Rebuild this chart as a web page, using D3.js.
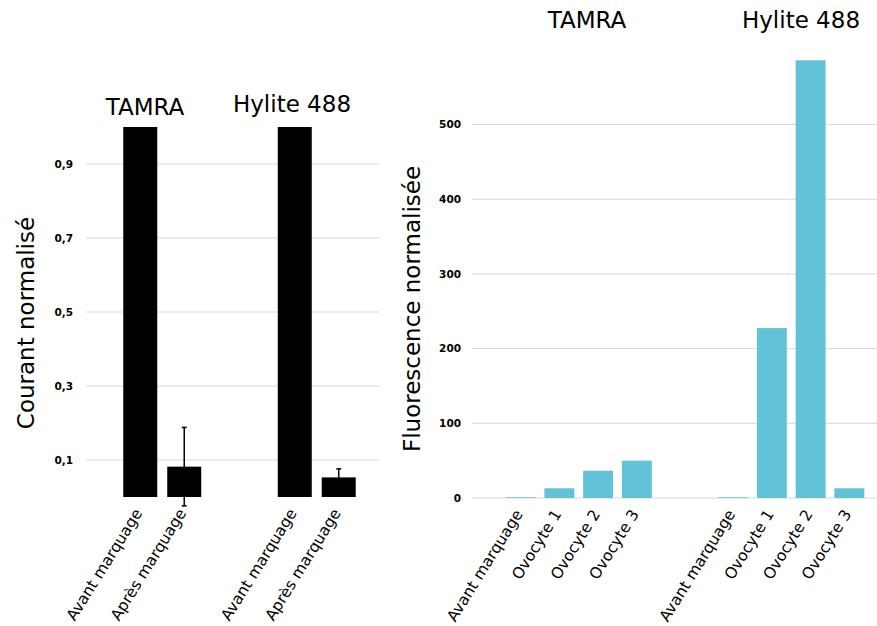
<!DOCTYPE html>
<html>
<head>
<meta charset="utf-8">
<script src="https://cdn.jsdelivr.net/npm/d3@7"></script>
<style>
  html, body { margin: 0; padding: 0; background: #fff; }
  svg { display: block; }
  .tick-label { font-family: "DejaVu Sans", sans-serif; font-weight: bold; font-size: 10.5px; fill: #000; }
  .cat-label { font-family: "DejaVu Sans", sans-serif; font-size: 15.5px; fill: #000; }
  .title { font-family: "DejaVu Sans", sans-serif; font-size: 23px; fill: #000; }
  .axis-title { font-family: "DejaVu Sans", sans-serif; font-size: 23px; fill: #000; }
</style>
</head>
<body>
<script>
// ---------- DATA ----------
const groups = ["TAMRA", "Hylite 488"];

// Left chart: normalized current
const leftCategories = ["Avant marquage", "Après marquage"];
const leftTamra = [1.0, 0.082];
const leftHylite = [1.0, 0.053];
const leftTamraErr = [0, 0.106];
const leftHyliteErr = [0, 0.023];
const leftTicks = [0.1, 0.3, 0.5, 0.7, 0.9];
const leftTickLabels = ["0,1", "0,3", "0,5", "0,7", "0,9"];

// Right chart: normalized fluorescence
const rightCategories = ["Avant marquage", "Ovocyte 1", "Ovocyte 2", "Ovocyte 3"];
const rightTamra = [1, 13, 36.5, 50];
const rightHylite = [1, 227.5, 586, 13];
const rightTicks = [0, 100, 200, 300, 400, 500];
const rightTickLabels = ["0", "100", "200", "300", "400", "500"];

const leftYTitle = "Courant normalisé";
const rightYTitle = "Fluorescence normalisée";

// ---------- DRAW ----------
const W = 877, H = 626;
const svg = d3.select("body").append("svg").attr("width", W).attr("height", H);

const gridColor = "#d9d9d9";
const blue = "#62c2d8";
const angle = -58;

// ===== Left chart =====
(function () {
  const y = d3.scaleLinear().domain([0, 1]).range([497, 127]);
  const x0 = d3.scaleBand().domain(groups).range([85, 394]);
  const x1 = d3.scaleBand().domain(leftCategories).range([0, x0.bandwidth()])
    .paddingInner(0.227).paddingOuter(0.87);
  const g = svg.append("g");

  g.selectAll("line.grid").data(leftTicks).enter().append("line")
    .attr("x1", 86).attr("x2", 379)
    .attr("y1", d => y(d)).attr("y2", d => y(d))
    .attr("stroke", gridColor).attr("stroke-width", 1);

  g.selectAll("text.tick-label").data(leftTicks).enter().append("text")
    .attr("class", "tick-label")
    .attr("x", 73).attr("y", d => y(d)).attr("dy", "0.35em")
    .attr("text-anchor", "end")
    .text((d, i) => leftTickLabels[i]);

  const series = [leftTamra, leftHylite];
  const errs = [leftTamraErr, leftHyliteErr];
  groups.forEach((grp, gi) => {
    const gg = g.append("g").attr("transform", `translate(${x0(grp)},0)`);
    gg.selectAll("rect").data(series[gi]).enter().append("rect")
      .attr("x", (d, i) => x1(leftCategories[i]))
      .attr("width", x1.bandwidth())
      .attr("y", d => y(d))
      .attr("height", d => y(0) - y(d))
      .attr("fill", "#000");
    series[gi].forEach((v, i) => {
      const e = errs[gi][i];
      if (!e) return;
      const cx = x1(leftCategories[i]) + x1.bandwidth() / 2;
      gg.append("line").attr("x1", cx).attr("x2", cx)
        .attr("y1", y(v + e)).attr("y2", y(v - e))
        .attr("stroke", "#000").attr("stroke-width", 1.5);
      [v + e, v - e].forEach(t => {
        gg.append("line").attr("x1", cx - 2.5).attr("x2", cx + 2.5)
          .attr("y1", y(t)).attr("y2", y(t))
          .attr("stroke", "#000").attr("stroke-width", 1.5);
      });
    });
    leftCategories.forEach(c => {
      gg.append("text").attr("class", "cat-label")
        .attr("text-anchor", "end")
        .attr("transform", `translate(${x1(c) + x1.bandwidth() / 2 - 2},${y(0) + 13}) rotate(${angle})`)
        .attr("dy", "0.35em")
        .text(c);
    });
  });

  g.append("text").attr("class", "title").attr("x", 145).attr("y", 115)
    .attr("text-anchor", "middle").text(groups[0]);
  g.append("text").attr("class", "title").attr("x", 292).attr("y", 112)
    .attr("text-anchor", "middle").text(groups[1]);

  g.append("text").attr("class", "axis-title")
    .attr("transform", `translate(34,323) rotate(-90)`)
    .attr("text-anchor", "middle").text(leftYTitle);
})();

// ===== Right chart =====
(function () {
  const y = d3.scaleLinear().domain([0, 500]).range([498, 124.5]);
  const x0 = d3.scaleBand().domain(groups).range([472.5, 897.5]);
  const x1 = d3.scaleBand().domain(rightCategories).range([0, x0.bandwidth()])
    .paddingInner(0.227).paddingOuter(0.857);
  const g = svg.append("g");

  g.selectAll("line.grid").data(rightTicks).enter().append("line")
    .attr("x1", 472).attr("x2", 877)
    .attr("y1", d => y(d)).attr("y2", d => y(d))
    .attr("stroke", gridColor).attr("stroke-width", 1);

  g.selectAll("text.tick-label").data(rightTicks).enter().append("text")
    .attr("class", "tick-label")
    .attr("x", 461).attr("y", d => y(d)).attr("dy", "0.35em")
    .attr("text-anchor", "end")
    .text((d, i) => rightTickLabels[i]);

  const series = [rightTamra, rightHylite];
  groups.forEach((grp, gi) => {
    const gg = g.append("g").attr("transform", `translate(${x0(grp)},0)`);
    gg.selectAll("rect").data(series[gi]).enter().append("rect")
      .attr("x", (d, i) => x1(rightCategories[i]))
      .attr("width", x1.bandwidth())
      .attr("y", d => y(d))
      .attr("height", d => y(0) - y(d))
      .attr("fill", blue);
    rightCategories.forEach(c => {
      gg.append("text").attr("class", "cat-label")
        .attr("text-anchor", "end")
        .attr("transform", `translate(${x1(c) + x1.bandwidth() / 2 - 2},${y(0) + 13}) rotate(${angle})`)
        .attr("dy", "0.35em")
        .text(c);
    });
  });

  g.append("text").attr("class", "title").attr("x", 587).attr("y", 28)
    .attr("text-anchor", "middle").text(groups[0]);
  g.append("text").attr("class", "title").attr("x", 801).attr("y", 28)
    .attr("text-anchor", "middle").text(groups[1]);

  g.append("text").attr("class", "axis-title")
    .attr("transform", `translate(420,309) rotate(-90)`)
    .attr("text-anchor", "middle").text(rightYTitle);
})();
</script>
</body>
</html>
